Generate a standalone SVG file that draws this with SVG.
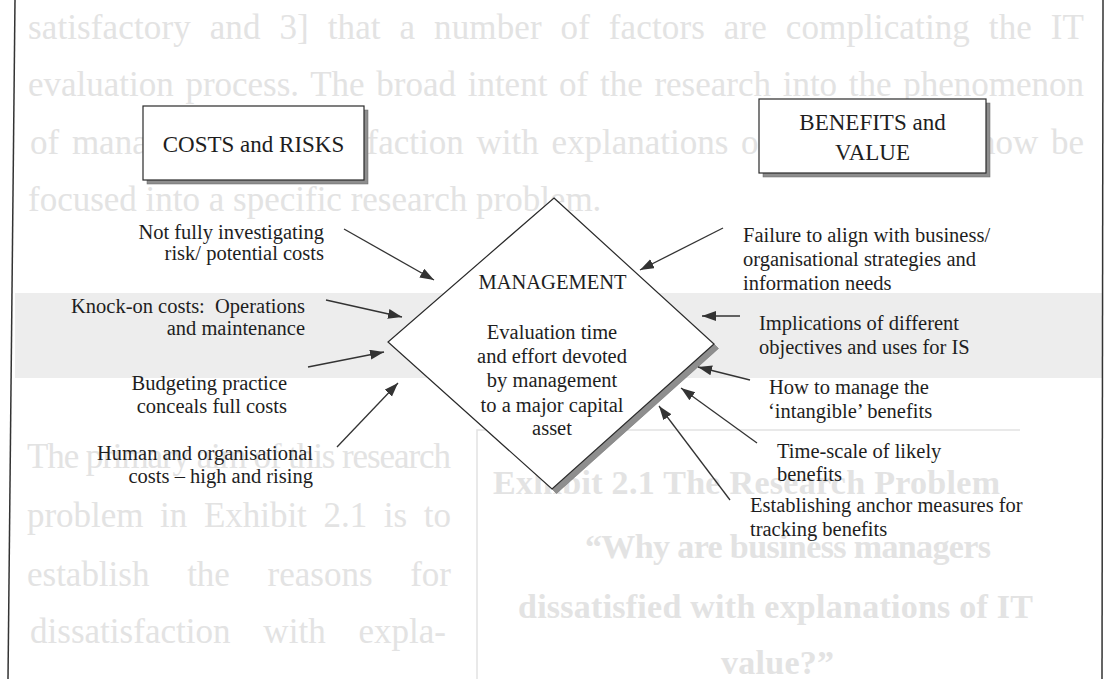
<svg xmlns="http://www.w3.org/2000/svg" width="1111" height="679" viewBox="0 0 1111 679">
<defs>
<style>
.t{font-family:"Liberation Serif","Times New Roman",serif;font-size:20.5px;fill:#1e1e1e}
.b{font-size:23px}
.e{text-anchor:end}
.m{text-anchor:middle}
.g{font-family:"Liberation Serif","Times New Roman",serif;font-size:35px;fill:#e3e3e3}
.gb{font-weight:bold;font-size:34px}
.box{fill:#fff;stroke:#2a2a2a;stroke-width:1.2}
.sh{fill:#8e8e8e;stroke:#666;stroke-width:0.5}
.arr{stroke:#333;stroke-width:1.3;fill:none;marker-end:url(#ah)}
.faint{stroke:#e2e2e2;stroke-width:1.5;fill:none}
</style>
<marker id="ah" markerUnits="userSpaceOnUse" markerWidth="15" markerHeight="11" refX="14" refY="5" orient="auto"><path d="M0,0 L14,5 L0,10 z" fill="#333"/></marker>
</defs>
<rect width="1111" height="679" fill="#fff"/>
<g id="background">
<rect x="15" y="293" width="1088" height="85" fill="#ededed"/>
<text class="g" x="28" y="39" word-spacing="10" textLength="1056" lengthAdjust="spacing">satisfactory and 3] that a number of factors are complicating the IT</text>
<text class="g" x="28" y="96" word-spacing="3" textLength="1056" lengthAdjust="spacing">evaluation process. The broad intent of the research into the phenomenon</text>
<text class="g" x="30" y="154" word-spacing="4" textLength="1054" lengthAdjust="spacing">of management dissatisfaction with explanations of IT value can now be</text>
<text class="g" x="28" y="211">focused into a specific research problem.</text>
<text class="g" x="27" y="468" textLength="424" lengthAdjust="spacing">The primary aim of this research</text>
<text class="g" x="27" y="527" word-spacing="8" textLength="424" lengthAdjust="spacing">problem in Exhibit 2.1 is to</text>
<text class="g" x="27" y="586" word-spacing="29" textLength="424" lengthAdjust="spacing">establish the reasons for</text>
<text class="g" x="30" y="643" word-spacing="24" textLength="416" lengthAdjust="spacing">dissatisfaction with expla-</text>
<text class="g gb" x="493" y="494" textLength="507" lengthAdjust="spacing">Exhibit 2.1 The Research Problem</text>
<text class="g gb" x="585" y="558" textLength="406" lengthAdjust="spacing">“Why are business managers</text>
<text class="g gb" x="518" y="618" textLength="515" lengthAdjust="spacing">dissatisfied with explanations of IT</text>
<text class="g gb" x="721" y="674" textLength="113" lengthAdjust="spacing">value?”</text>
<path class="faint" d="M477,679 L477,430 L1020,430"/>
</g>
<g id="frame">
<line x1="15" y1="0" x2="8" y2="679" stroke="#333" stroke-width="1.5"/>
<line x1="1103" y1="0" x2="1102" y2="679" stroke="#333" stroke-width="1.5"/>
</g>
<g id="costs-risks">
<rect class="sh" x="147" y="110" width="221" height="74"/>
<rect class="box" x="143" y="106" width="221" height="74"/>
<text class="t b m" x="253.5" y="152">COSTS and RISKS</text>
</g>
<g id="benefits-value">
<rect class="sh" x="763" y="103" width="227" height="74"/>
<rect class="box" x="759" y="99" width="227" height="74"/>
<text class="t b m" x="872.5" y="130">BENEFITS and</text>
<text class="t b m" x="872.5" y="160">VALUE</text>
</g>
<g id="management">
<polygon class="sh" points="714,344 718.5,348.5 556.5,493.5 552,489"/>
<polygon class="box" points="554,198 714,344 552,489 388,342"/>
<text class="t m" x="552.5" y="289">MANAGEMENT</text>
<text class="t m" x="552" y="339">Evaluation time</text>
<text class="t m" x="552" y="363">and effort devoted</text>
<text class="t m" x="552" y="387">by management</text>
<text class="t m" x="552" y="412">to a major capital</text>
<text class="t m" x="552" y="435">asset</text>
</g>
<g id="cost-factors">
<text class="t e" x="324" y="239">Not fully investigating</text>
<text class="t e" x="324" y="260">risk/ potential costs</text>
<text class="t e" x="305" y="313">Knock-on costs:&#160; Operations</text>
<text class="t e" x="305" y="335">and maintenance</text>
<text class="t e" x="287" y="390">Budgeting practice</text>
<text class="t e" x="287" y="413">conceals full costs</text>
<text class="t e" x="313" y="460">Human and organisational</text>
<text class="t e" x="313" y="483">costs – high and rising</text>
</g>
<g id="benefit-factors">
<text class="t" x="743" y="242">Failure to align with business/</text>
<text class="t" x="743" y="266">organisational strategies and</text>
<text class="t" x="743" y="290">information needs</text>
<text class="t" x="759" y="330">Implications of different</text>
<text class="t" x="759" y="354">objectives and uses for IS</text>
<text class="t" x="769" y="394">How to manage the</text>
<text class="t" x="768" y="418">‘intangible’ benefits</text>
<text class="t" x="777" y="458">Time-scale of likely</text>
<text class="t" x="777" y="481">benefits</text>
<text class="t" x="750" y="512">Establishing anchor measures for</text>
<text class="t" x="750" y="536">tracking benefits</text>
</g>
<g id="connectors">
<line class="arr" x1="344" y1="229" x2="434" y2="280"/>
<line class="arr" x1="326" y1="300" x2="402" y2="317"/>
<line class="arr" x1="308" y1="367" x2="384" y2="352"/>
<line class="arr" x1="337" y1="447" x2="398" y2="383"/>
<line class="arr" x1="723" y1="228" x2="640" y2="270"/>
<line class="arr" x1="740" y1="316" x2="702" y2="316"/>
<line class="arr" x1="750" y1="380" x2="698" y2="367"/>
<line class="arr" x1="757" y1="443" x2="681" y2="388"/>
<line class="arr" x1="730" y1="500" x2="659" y2="406"/>
</g>
</svg>
